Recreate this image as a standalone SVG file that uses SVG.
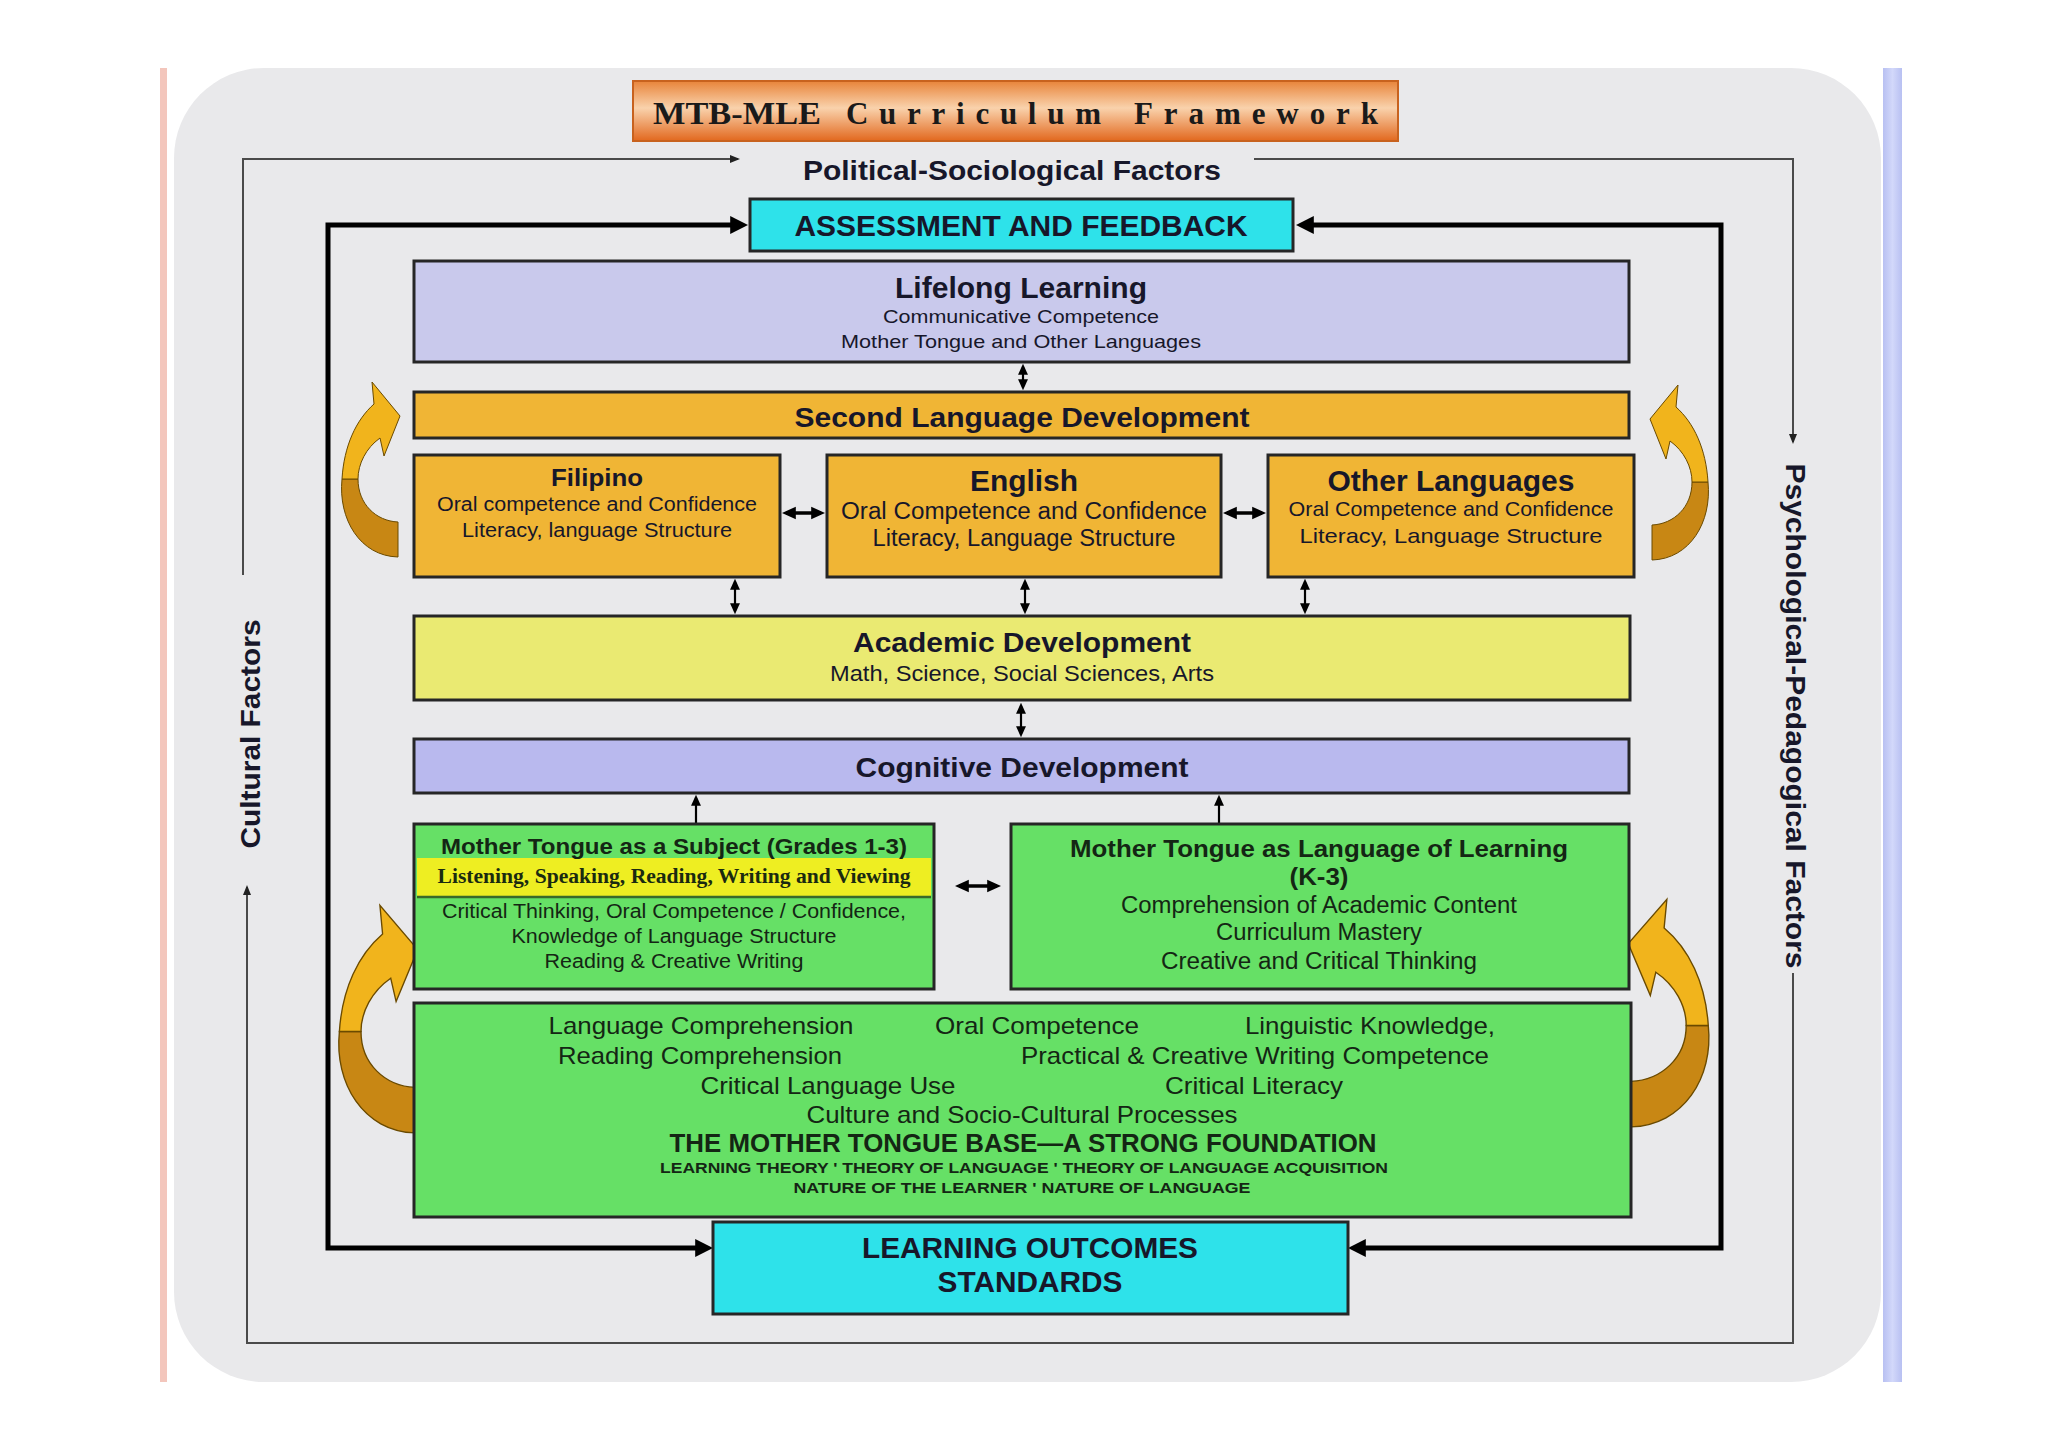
<svg xmlns="http://www.w3.org/2000/svg" width="2048" height="1447" viewBox="0 0 2048 1447">
<defs>
<style>
.box{stroke:#262626;stroke-width:3}
.t{font-family:"Liberation Sans",Arial,sans-serif;fill:#17172a;text-anchor:middle}
.b{font-weight:bold}
.g{fill:#142614}
.thin{fill:none;stroke:#4a4a4a;stroke-width:2}
.thick{fill:none;stroke:#000;stroke-width:5}
.dbl{fill:none;stroke:#000;stroke-width:2.2}
.dblh{fill:none;stroke:#000;stroke-width:3.5}
.cu{fill:#f1b41c;stroke:#6a4a00;stroke-width:1}
.cl{fill:#c88714;stroke:#6a4a00;stroke-width:1}
</style>
<linearGradient id="tg" x1="0" y1="0" x2="0" y2="1">
<stop offset="0" stop-color="#e8843a"/>
<stop offset="0.45" stop-color="#f9d2ac"/>
<stop offset="1" stop-color="#e2681e"/>
</linearGradient>
<linearGradient id="bb" x1="0" y1="0" x2="1" y2="0">
<stop offset="0" stop-color="#b8c0f2"/>
<stop offset="0.5" stop-color="#d2d8fa"/>
<stop offset="1" stop-color="#b8c0f2"/>
</linearGradient>
<marker id="ms" viewBox="0 0 10 10" refX="7" refY="5" markerUnits="userSpaceOnUse" markerWidth="11" markerHeight="11" orient="auto-start-reverse"><path d="M0,0.5 L10,5 L0,9.5 z" fill="#000"/></marker>
<marker id="mh" viewBox="0 0 10 10" refX="7" refY="5" markerUnits="userSpaceOnUse" markerWidth="14" markerHeight="14" orient="auto-start-reverse"><path d="M0,0.5 L10,5 L0,9.5 z" fill="#000"/></marker>
<marker id="mk" viewBox="0 0 10 10" refX="6" refY="5" markerUnits="userSpaceOnUse" markerWidth="18" markerHeight="18" orient="auto-start-reverse"><path d="M0,0 L10,5 L0,10 z" fill="#000"/></marker>
<marker id="mt" viewBox="0 0 10 10" refX="8" refY="5" markerUnits="userSpaceOnUse" markerWidth="10" markerHeight="10" orient="auto-start-reverse"><path d="M0,1 L10,5 L0,9 z" fill="#222"/></marker>
<g id="curl">
<path class="cl" d="M0,173 C-38,172 -60,135 -56,95 L-40,95 C-40,120 -22,137 0,138 Z"/>
<path class="cu" d="M-56,95 C-54,62 -42,36 -24,20 L-26,-2 L2,32 L-14,72 L-18,54 C-32,64 -40,80 -40,95 Z"/>
</g>
</defs>

<rect x="0" y="0" width="2048" height="1447" fill="#ffffff"/>
<rect x="160" y="68" width="7" height="1314" fill="#f3c6bc"/>
<rect x="1883" y="68" width="19" height="1314" fill="url(#bb)"/>
<rect x="174" y="68" width="1707" height="1314" rx="90" ry="90" fill="#e9e9eb"/>

<g id="title">
<rect x="633" y="81" width="765" height="60" fill="url(#tg)" stroke="#c8621e" stroke-width="2"/>
<text x="653" y="124" font-family="Liberation Serif,serif" font-weight="bold" font-size="31" fill="#1a1a1a" textLength="168" lengthAdjust="spacingAndGlyphs">MTB-MLE</text>
<text x="846" y="124" font-family="Liberation Serif,serif" font-weight="bold" font-size="31" fill="#1a1a1a" textLength="255" lengthAdjust="spacing">Curriculum</text>
<text x="1134" y="124" font-family="Liberation Serif,serif" font-weight="bold" font-size="31" fill="#1a1a1a" textLength="244" lengthAdjust="spacing">Framework</text>
</g>

<g id="factors">
<text class="t b" x="1012" y="180" font-size="28" textLength="418" lengthAdjust="spacingAndGlyphs">Political-Sociological Factors</text>
<text class="t b" transform="translate(1786,716) rotate(90)" font-size="27" textLength="505" lengthAdjust="spacingAndGlyphs">Psychological-Pedagogical Factors</text>
<text class="t b" transform="translate(260,734) rotate(-90)" font-size="27" textLength="229" lengthAdjust="spacingAndGlyphs">Cultural Factors</text>
</g>

<g id="connectors">
<path class="thin" d="M243,575 L243,159 L738,159" marker-end="url(#mt)"/>
<path class="thin" d="M1254,159 L1793,159 L1793,442" marker-end="url(#mt)"/>
<path class="thin" d="M1793,973 L1793,1343 L247,1343 L247,887" marker-end="url(#mt)"/>
<path class="thick" d="M741,225 L328,225 L328,1248 L706,1248" marker-start="url(#mk)" marker-end="url(#mk)"/>
<path class="thick" d="M1303,225 L1721,225 L1721,1248 L1355,1248" marker-start="url(#mk)" marker-end="url(#mk)"/>
<path class="dbl" d="M1023,367 L1023,387" marker-start="url(#ms)" marker-end="url(#ms)"/>
<path class="dblh" d="M786,513 L821,513" marker-start="url(#mh)" marker-end="url(#mh)"/>
<path class="dblh" d="M1227,513 L1262,513" marker-start="url(#mh)" marker-end="url(#mh)"/>
<path class="dbl" d="M735,582 L735,611" marker-start="url(#ms)" marker-end="url(#ms)"/>
<path class="dbl" d="M1025,582 L1025,611" marker-start="url(#ms)" marker-end="url(#ms)"/>
<path class="dbl" d="M1305,582 L1305,611" marker-start="url(#ms)" marker-end="url(#ms)"/>
<path class="dbl" d="M1021,706 L1021,734" marker-start="url(#ms)" marker-end="url(#ms)"/>
<path class="dbl" d="M696,824 L696,798" marker-end="url(#ms)"/>
<path class="dbl" d="M1219,824 L1219,798" marker-end="url(#ms)"/>
<path class="dblh" d="M959,886 L997,886" marker-start="url(#mh)" marker-end="url(#mh)"/>
<use href="#curl" transform="translate(398,384)"/>
<use href="#curl" transform="translate(1652,387) scale(-1,1)"/>
<use href="#curl" transform="translate(415,908) scale(1.35,1.3)"/>
<use href="#curl" transform="translate(1631,902) scale(-1.38,1.3)"/>
</g>

<g id="assessment">
<rect class="box" x="750" y="199" width="543" height="52" fill="#2ee2ea"/>
<text class="t b" x="1021" y="236" font-size="29" textLength="453" lengthAdjust="spacingAndGlyphs">ASSESSMENT AND FEEDBACK</text>
</g>

<g id="lifelong">
<rect class="box" x="414" y="261" width="1215" height="101" fill="#c9c9ec"/>
<text class="t b" x="1021" y="298" font-size="29" textLength="252" lengthAdjust="spacingAndGlyphs">Lifelong Learning</text>
<text class="t" x="1021" y="323" font-size="19" textLength="276" lengthAdjust="spacingAndGlyphs">Communicative Competence</text>
<text class="t" x="1021" y="348" font-size="19" textLength="360" lengthAdjust="spacingAndGlyphs">Mother Tongue and Other Languages</text>
</g>

<g id="second-language">
<rect class="box" x="414" y="392" width="1215" height="46" fill="#f0b535"/>
<text class="t b" x="1022" y="427" font-size="28" textLength="455" lengthAdjust="spacingAndGlyphs">Second Language Development</text>
</g>

<g id="filipino">
<rect class="box" x="414" y="455" width="366" height="122" fill="#f0b535"/>
<text class="t b" x="597" y="486" font-size="24" textLength="92" lengthAdjust="spacingAndGlyphs">Filipino</text>
<text class="t" x="597" y="511" font-size="20" textLength="320" lengthAdjust="spacingAndGlyphs">Oral competence and Confidence</text>
<text class="t" x="597" y="537" font-size="20" textLength="270" lengthAdjust="spacingAndGlyphs">Literacy, language Structure</text>
</g>

<g id="english">
<rect class="box" x="827" y="455" width="394" height="122" fill="#f0b535"/>
<text class="t b" x="1024" y="491" font-size="29" textLength="108" lengthAdjust="spacingAndGlyphs">English</text>
<text class="t" x="1024" y="519" font-size="23" textLength="366" lengthAdjust="spacingAndGlyphs">Oral Competence  and Confidence</text>
<text class="t" x="1024" y="546" font-size="23" textLength="303" lengthAdjust="spacingAndGlyphs">Literacy, Language Structure</text>
</g>

<g id="other-languages">
<rect class="box" x="1268" y="455" width="366" height="122" fill="#f0b535"/>
<text class="t b" x="1451" y="491" font-size="29" textLength="247" lengthAdjust="spacingAndGlyphs">Other Languages</text>
<text class="t" x="1451" y="516" font-size="21" textLength="325" lengthAdjust="spacingAndGlyphs">Oral Competence and Confidence</text>
<text class="t" x="1451" y="543" font-size="21" textLength="303" lengthAdjust="spacingAndGlyphs">Literacy, Language Structure</text>
</g>

<g id="academic">
<rect class="box" x="414" y="616" width="1216" height="84" fill="#eaea72"/>
<text class="t b" x="1022" y="652" font-size="28" textLength="338" lengthAdjust="spacingAndGlyphs">Academic Development</text>
<text class="t" x="1022" y="681" font-size="22" textLength="384" lengthAdjust="spacingAndGlyphs">Math, Science, Social Sciences, Arts</text>
</g>

<g id="cognitive">
<rect class="box" x="414" y="739" width="1215" height="54" fill="#b9b9ee"/>
<text class="t b" x="1022" y="777" font-size="28" textLength="333" lengthAdjust="spacingAndGlyphs">Cognitive Development</text>
</g>

<g id="mt-subject">
<rect class="box" x="414" y="824" width="520" height="165" fill="#66e066"/>
<rect x="417" y="858" width="514" height="39" fill="#eeee22"/>
<line x1="417" y1="897" x2="931" y2="897" stroke="#3a6a2a" stroke-width="2.5"/>
<text class="t b g" x="674" y="854" font-size="22" textLength="466" lengthAdjust="spacingAndGlyphs">Mother Tongue as a Subject (Grades 1-3)</text>
<text x="674" y="883" font-family="Liberation Serif,serif" font-weight="bold" font-size="20" fill="#1a2a10" text-anchor="middle" textLength="473" lengthAdjust="spacingAndGlyphs">Listening, Speaking, Reading, Writing and Viewing</text>
<text class="t g" x="674" y="918" font-size="20" textLength="464" lengthAdjust="spacingAndGlyphs">Critical Thinking, Oral Competence / Confidence,</text>
<text class="t g" x="674" y="943" font-size="20" textLength="325" lengthAdjust="spacingAndGlyphs">Knowledge of Language Structure</text>
<text class="t g" x="674" y="968" font-size="20" textLength="259" lengthAdjust="spacingAndGlyphs">Reading &amp; Creative Writing</text>
</g>

<g id="mt-learning">
<rect class="box" x="1011" y="824" width="618" height="165" fill="#66e066"/>
<text class="t b g" x="1319" y="857" font-size="24" textLength="498" lengthAdjust="spacingAndGlyphs">Mother Tongue as Language of Learning</text>
<text class="t b g" x="1319" y="885" font-size="24" textLength="59" lengthAdjust="spacingAndGlyphs">(K-3)</text>
<text class="t g" x="1319" y="913" font-size="23" textLength="396" lengthAdjust="spacingAndGlyphs">Comprehension of Academic Content</text>
<text class="t g" x="1319" y="940" font-size="23" textLength="206" lengthAdjust="spacingAndGlyphs">Curriculum Mastery</text>
<text class="t g" x="1319" y="969" font-size="23" textLength="316" lengthAdjust="spacingAndGlyphs">Creative  and Critical Thinking</text>
</g>

<g id="base">
<rect class="box" x="414" y="1003" width="1217" height="214" fill="#66e066"/>
<text class="t g" x="701" y="1034" font-size="24" textLength="305" lengthAdjust="spacingAndGlyphs">Language Comprehension</text>
<text class="t g" x="1037" y="1034" font-size="24" textLength="204" lengthAdjust="spacingAndGlyphs">Oral Competence</text>
<text class="t g" x="1370" y="1034" font-size="24" textLength="250" lengthAdjust="spacingAndGlyphs">Linguistic Knowledge,</text>
<text class="t g" x="700" y="1064" font-size="24" textLength="284" lengthAdjust="spacingAndGlyphs">Reading Comprehension</text>
<text class="t g" x="1255" y="1064" font-size="24" textLength="468" lengthAdjust="spacingAndGlyphs">Practical &amp; Creative Writing Competence</text>
<text class="t g" x="828" y="1094" font-size="24" textLength="255" lengthAdjust="spacingAndGlyphs">Critical Language Use</text>
<text class="t g" x="1254" y="1094" font-size="24" textLength="178" lengthAdjust="spacingAndGlyphs">Critical Literacy</text>
<text class="t g" x="1022" y="1123" font-size="24" textLength="431" lengthAdjust="spacingAndGlyphs">Culture and Socio-Cultural Processes</text>
<text class="t b g" x="1023" y="1152" font-size="25" textLength="707" lengthAdjust="spacingAndGlyphs">THE MOTHER TONGUE BASE—A STRONG FOUNDATION</text>
<text class="t b g" x="1024" y="1173" font-size="15" textLength="728" lengthAdjust="spacingAndGlyphs">LEARNING THEORY '  THEORY OF LANGUAGE ' THEORY OF LANGUAGE ACQUISITION</text>
<text class="t b g" x="1022" y="1193" font-size="15" textLength="457" lengthAdjust="spacingAndGlyphs">NATURE OF THE LEARNER  '  NATURE OF LANGUAGE</text>
</g>

<g id="outcomes">
<rect class="box" x="713" y="1222" width="635" height="92" fill="#2ee2ea"/>
<text class="t b" x="1030" y="1258" font-size="29" textLength="336" lengthAdjust="spacingAndGlyphs">LEARNING OUTCOMES</text>
<text class="t b" x="1030" y="1292" font-size="29" textLength="185" lengthAdjust="spacingAndGlyphs">STANDARDS</text>
</g>
</svg>
